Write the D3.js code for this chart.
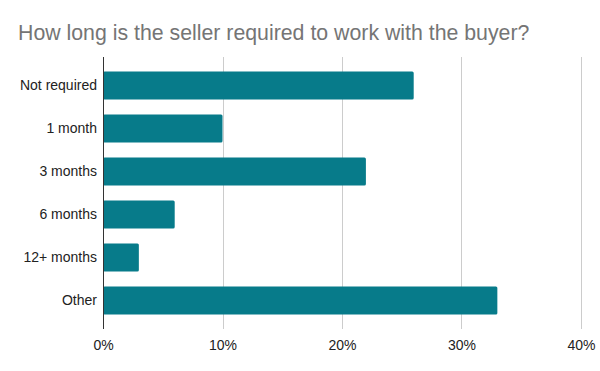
<!DOCTYPE html>
<html><head><meta charset="utf-8">
<script src="https://cdn.jsdelivr.net/npm/d3@7"></script>
<style>body{margin:0;background:#fff}svg{display:block}</style>
</head><body>
<svg id="c" width="600" height="371"></svg>
<script>
const categories = ["Not required", "1 month", "3 months", "6 months", "12+ months", "Other"];
const values = [0.26, 0.10, 0.22, 0.06, 0.03, 0.33];
const tickValues = [0, 0.1, 0.2, 0.3, 0.4];
const title = "How long is the seller required to work with the buyer?";

const svg = d3.select("#c");
const font = "'Liberation Sans', Arial, sans-serif";
const margin = {left: 103, right: 19, top: 57, bottom: 42};
const W = 600, H = 371;

const x = d3.scaleLinear().domain([0, 0.4]).range([margin.left, W - margin.right]);
const y = d3.scaleBand().domain(categories).range([margin.top, H - margin.bottom])
  .paddingInner(0.349).paddingOuter(0.337);

svg.append("rect").attr("width", W).attr("height", H).attr("fill", "#fff");

svg.append("text").attr("x", 18).attr("y", 40).text(title)
  .attr("font-family", font).attr("font-size", 21.3).attr("fill", "#757575");

// gridlines
svg.append("g").selectAll("line").data(tickValues.slice(1)).join("line")
  .attr("x1", d => Math.round(x(d)) + 0.5).attr("x2", d => Math.round(x(d)) + 0.5)
  .attr("y1", margin.top).attr("y2", H - margin.bottom)
  .attr("stroke", "#cccccc").attr("stroke-width", 1);

// bars
svg.append("g").selectAll("rect").data(categories).join("rect")
  .attr("x", x(0)).attr("y", d => y(d))
  .attr("width", (d, i) => x(values[i]) - x(0)).attr("height", y.bandwidth())
  .attr("rx", 1.5).attr("fill", "#077b8a");

// baseline axis
svg.append("line").attr("x1", Math.round(x(0)) + 0.5).attr("x2", Math.round(x(0)) + 0.5)
  .attr("y1", margin.top).attr("y2", H - margin.bottom)
  .attr("stroke", "#333").attr("stroke-width", 1);

// x axis labels
const xAxis = d3.axisBottom(x).tickValues(tickValues).tickFormat(d3.format(".0%")).tickSize(0).tickPadding(0);
const gx = svg.append("g").attr("transform", `translate(0,${H - margin.bottom + 21})`).call(xAxis);
gx.select(".domain").remove();
gx.selectAll("text").attr("font-family", font).attr("font-size", 14).attr("fill", "#222").attr("dy", "0");

// y axis labels
const yAxis = d3.axisLeft(y).tickSize(0).tickPadding(6);
const gy = svg.append("g").attr("transform", `translate(${margin.left},0)`).call(yAxis);
gy.select(".domain").remove();
gy.selectAll("text").attr("font-family", font).attr("font-size", 14).attr("fill", "#222");
</script>
</body></html>
